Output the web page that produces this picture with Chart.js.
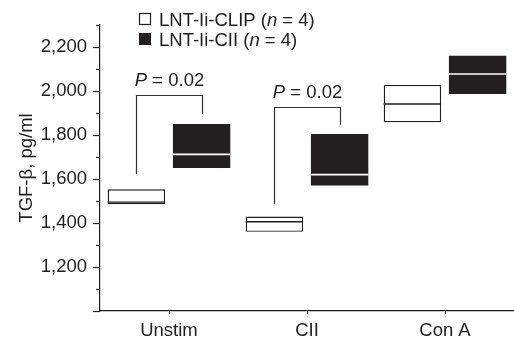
<!DOCTYPE html>
<html>
<head>
<meta charset="utf-8">
<script src="https://cdn.jsdelivr.net/npm/chart.js@4"></script>
<style>
  html, body { margin: 0; padding: 0; background: #fff; }
  canvas { display: block; }
</style>
</head>
<body>
<canvas id="chart" width="514" height="341"></canvas>
<script>
try {

// categories and series (box ranges as [low, high], plus medians)
const categories = ['Unstim', 'CII', 'Con A'];
const clipBoxes = [[1485, 1553], [1360, 1429], [1858, 2027]];
const clipMedians = [1495, 1406, 1941];
const ciiBoxes = [[1650, 1850], [1571, 1805], [1986, 2160]];
const ciiMedians = [1712, 1620, 2077];

// significance brackets: category index, left foot, top, right foot
const bracketCats = [0, 1];
const bracketLeft = [1623, 1486];
const bracketTop = [1984, 1929];
const bracketRight = [1895, 1847];
const bracketLabel = ['0.02', '0.02'];

const yLabeled = [1200, 1400, 1600, 1800, 2000, 2200];

const FONT = '"Liberation Sans", Arial, Helvetica, sans-serif';
const INK = '#1e1e1e';
const DARK = '#231f20';
const FSIZE = 18.5;

// draw pieces of text, some italic, one after another
function drawRuns(ctx, runs, x, y, align) {
  let total = 0;
  runs.forEach(r => {
    ctx.font = (r.italic ? 'italic ' : '') + FSIZE + 'px ' + FONT;
    r.w = ctx.measureText(r.t).width;
    total += r.w;
  });
  let cx = align === 'center' ? x - total / 2 : x;
  ctx.textAlign = 'left';
  ctx.textBaseline = 'alphabetic';
  runs.forEach(r => {
    ctx.font = (r.italic ? 'italic ' : '') + FSIZE + 'px ' + FONT;
    ctx.fillText(r.t, cx, y);
    cx += r.w;
  });
}

const overlay = {
  id: 'overlay',
  afterDraw(chart) {
    const ctx = chart.ctx;
    const xs = chart.scales.x;
    const ys = chart.scales.y;
    const area = chart.chartArea;
    ctx.save();
    ctx.strokeStyle = INK;
    ctx.fillStyle = INK;

    // y tick marks, long at labeled values
    ctx.lineWidth = 1.2;
    ys.ticks.forEach(t => {
      const py = Math.round(ys.getPixelForValue(t.value)) + 0.5;
      const len = (t.value % 200 === 0) ? 7 : 4;
      ctx.beginPath();
      ctx.moveTo(area.left - len, py);
      ctx.lineTo(area.left, py);
      ctx.stroke();
    });
    // x tick marks
    categories.forEach((c, i) => {
      const px = Math.round(xs.getPixelForValue(i)) + 0.5;
      ctx.beginPath();
      ctx.moveTo(px, area.bottom);
      ctx.lineTo(px, area.bottom + 3);
      ctx.stroke();
    });

    // medians
    const metaClip = chart.getDatasetMeta(0);
    const metaCii = chart.getDatasetMeta(1);
    metaClip.data.forEach((el, i) => {
      const py = ys.getPixelForValue(clipMedians[i]);
      ctx.strokeStyle = INK;
      ctx.lineWidth = 1.4;
      ctx.beginPath();
      ctx.moveTo(el.x - el.width / 2, py);
      ctx.lineTo(el.x + el.width / 2, py);
      ctx.stroke();
    });
    metaCii.data.forEach((el, i) => {
      const py = ys.getPixelForValue(ciiMedians[i]);
      ctx.strokeStyle = '#ffffff';
      ctx.lineWidth = 1.6;
      ctx.beginPath();
      ctx.moveTo(el.x - el.width / 2, py);
      ctx.lineTo(el.x + el.width / 2, py);
      ctx.stroke();
    });

    // brackets with P values
    ctx.strokeStyle = '#333';
    ctx.lineWidth = 1.2;
    bracketCats.forEach((ci, k) => {
      const x1 = Math.round(metaClip.data[ci].x) + 0.5;
      const x2 = Math.round(metaCii.data[ci].x) + 0.5;
      const yTop = Math.round(ys.getPixelForValue(bracketTop[k])) + 0.5;
      ctx.beginPath();
      ctx.moveTo(x1, ys.getPixelForValue(bracketLeft[k]));
      ctx.lineTo(x1, yTop);
      ctx.lineTo(x2, yTop);
      ctx.lineTo(x2, ys.getPixelForValue(bracketRight[k]));
      ctx.stroke();
      ctx.fillStyle = INK;
      drawRuns(ctx, [{t: 'P', italic: true}, {t: ' = ' + bracketLabel[k]}], (x1 + x2) / 2, yTop - 10, 'center');
    });

    // legend
    ctx.lineWidth = 1.2;
    ctx.strokeStyle = INK;
    ctx.fillStyle = '#fff';
    ctx.fillRect(139.5, 13.5, 11, 11);
    ctx.strokeRect(139.5, 13.5, 11, 11);
    ctx.fillStyle = DARK;
    ctx.fillRect(139, 33, 12, 12);
    ctx.fillStyle = INK;
    drawRuns(ctx, [{t: 'LNT-Ii-CLIP ('}, {t: 'n', italic: true}, {t: ' = 4)'}], 159, 26, 'left');
    drawRuns(ctx, [{t: 'LNT-Ii-CII ('}, {t: 'n', italic: true}, {t: ' = 4)'}], 159, 46, 'left');

    ctx.restore();
  }
};

new Chart(document.getElementById('chart'), {
  type: 'bar',
  data: {
    labels: categories,
    datasets: [
      {
        label: 'LNT-Ii-CLIP (n = 4)',
        data: clipBoxes,
        backgroundColor: '#ffffff',
        borderColor: INK,
        borderWidth: 1.3,
        borderSkipped: false,
        categoryPercentage: 0.945,
        barPercentage: 0.88
      },
      {
        label: 'LNT-Ii-CII (n = 4)',
        data: ciiBoxes,
        backgroundColor: DARK,
        borderWidth: 0,
        categoryPercentage: 0.945,
        barPercentage: 0.88
      }
    ]
  },
  options: {
    responsive: false,
    animation: false,
    layout: { padding: { top: 25, right: -5, left: 0, bottom: 0 } },
    plugins: {
      legend: { display: false },
      tooltip: { enabled: false }
    },
    scales: {
      x: {
        offset: true,
        grid: { display: false, drawTicks: false },
        border: { display: true, color: INK, width: 1.2 },
        ticks: { color: INK, font: { family: FONT, size: FSIZE }, padding: 9 },
        afterFit(scale) { scale.height = 30; }
      },
      y: {
        min: 1000,
        max: 2300,
        grid: { display: false, drawTicks: false },
        border: { display: true, color: INK, width: 1.2 },
        ticks: {
          stepSize: 100,
          autoSkip: false,
          color: INK,
          font: { family: FONT, size: FSIZE },
          padding: 13,
          callback: v => yLabeled.includes(v) ? v.toLocaleString('en-US') : ''
        },
        title: {
          display: true,
          text: 'TGF-β, pg/ml',
          color: INK,
          font: { family: FONT, size: FSIZE },
          padding: { top: 16, bottom: 0 }
        },
        afterFit(scale) { scale.width = 100; }
      }
    }
  },
  plugins: [overlay]
});

} catch (err) {
  console.error(err);
}
</script>
</body>
</html>
